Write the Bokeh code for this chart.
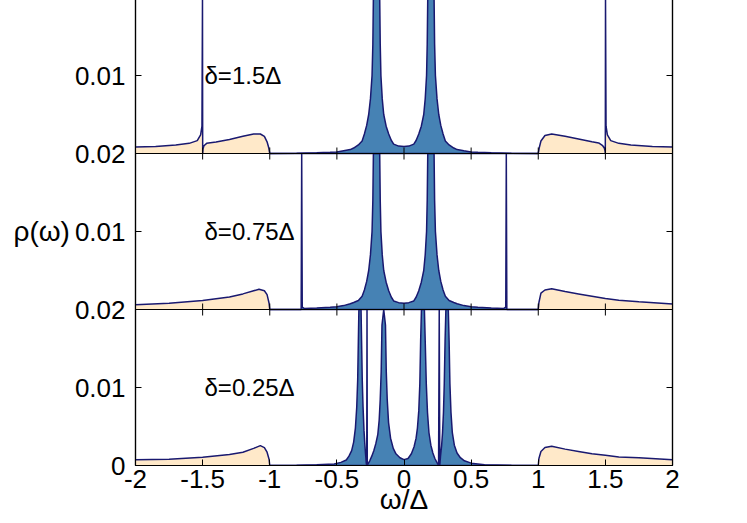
import numpy as np
from bokeh.plotting import figure
from bokeh.models import Range1d, LinearAxis, FixedTicker, CustomJSTickFormatter, Span
from bokeh.core.properties import value
from bokeh.embed import file_html
from bokeh.resources import INLINE

# ---------------- data ----------------
x_ticks = [-2, -1.5, -1, -0.5, 0, 0.5, 1, 1.5, 2]
x_tick_labels = ["-2", "-1.5", "-1", "-0.5", "0", "0.5", "1", "1.5", "2"]
y_ticks = [0, 0.01, 0.02, 0.03, 0.04, 0.05, 0.06]
y_tick_labels = ["0", "0.01", "0.02", "0.01", "0.02", "0.01", ""]

panel_labels = ["δ=0.25Δ", "δ=0.75Δ", "δ=1.5Δ"]   # bottom, middle, top
panel_offsets = [0.0, 0.02, 0.04]
panel_height = 0.02

# top panel  (delta = 1.5 Delta)
top_band_x = [-2.0, -1.85, -1.7, -1.6, -1.54, -1.515, -1.505, -1.501, -1.4995, -1.497, -1.49, -1.47,
              -1.4, -1.3, -1.2, -1.12, -1.07, -1.04, -1.02, -1.007, -1.0, 1.0, 1.007, 1.02, 1.05, 1.1,
              1.2, 1.3, 1.4, 1.45, 1.48, 1.492, 1.498, 1.4995, 1.501, 1.505, 1.515, 1.54, 1.6, 1.69,
              1.85, 2.0]
top_band_y = [0.00082, 0.0009, 0.0011, 0.0013, 0.00165, 0.0024, 0.0035, 0.03, 0.0, 0.0006, 0.001, 0.0013,
              0.00147, 0.0018, 0.0022, 0.0025, 0.0025, 0.0022, 0.0015, 0.0007, 0.0, 0.0, 0.0007, 0.0016, 0.0023, 0.0025,
              0.0022, 0.00186, 0.0015, 0.00136, 0.001, 0.0007, 0.0003, 0.0, 0.03, 0.0035, 0.0024, 0.00165, 0.0013, 0.0011,
              0.0009, 0.00082]
top_gap_x = [-1.0, -0.8, -0.65, -0.55, -0.5, -0.45, -0.4, -0.375, -0.34, -0.312, -0.295, -0.278, -0.263,
             -0.25, -0.238, -0.232, -0.228, -0.22, -0.205, -0.19, -0.181, -0.177, -0.172, -0.162, -0.151,
             -0.133, -0.114, -0.095, -0.077, -0.04, 0.0, 0.036, 0.073, 0.091, 0.11, 0.129, 0.147, 0.158,
             0.168, 0.173, 0.177, 0.186, 0.201, 0.216, 0.224, 0.228, 0.234, 0.246, 0.259, 0.274, 0.291,
             0.308, 0.336, 0.371, 0.396, 0.446, 0.5, 0.55, 0.65, 0.8, 1.0]
top_gap_y = [0.0, 0.00003, 0.0001, 0.00016, 0.0002, 0.00035, 0.0005, 0.0007, 0.0011, 0.0016, 0.0025, 0.0036, 0.005,
             0.007, 0.01, 0.014, 0.02, 0.03, 0.06, 0.03, 0.02, 0.014, 0.01, 0.007, 0.005,
             0.0035, 0.0025, 0.0017, 0.0012, 0.00095, 0.0009, 0.00095, 0.0012, 0.0017, 0.0025, 0.0035, 0.005, 0.007,
             0.01, 0.014, 0.02, 0.03, 0.06, 0.03, 0.02, 0.014, 0.01, 0.007, 0.005, 0.0036, 0.0025,
             0.0016, 0.0011, 0.0007, 0.0005, 0.00035, 0.0002, 0.00016, 0.0001, 0.00003, 0.0]

# middle panel (delta = 0.75 Delta)
mid_band_x = [-2.0, -1.75, -1.5, -1.3, -1.2, -1.12, -1.08, -1.04, -1.02, -1.005, -1.0,
              1.0, 1.005, 1.02, 1.05, 1.1, 1.2, 1.3, 1.4, 1.5, 1.6, 1.75, 2.0]
mid_band_y = [0.0006, 0.0008, 0.00115, 0.0016, 0.002, 0.0024, 0.0026, 0.0024, 0.0019, 0.0008, 0.0,
              0.0, 0.0009, 0.0021, 0.0025, 0.00265, 0.0023, 0.002, 0.0017, 0.0014, 0.0012, 0.001, 0.0007]
mid_gap_x = [-1.0, -0.766, -0.762, -0.758, -0.74, -0.65, -0.55, -0.5, -0.45, -0.4, -0.375, -0.34,
             -0.312, -0.295, -0.278, -0.263, -0.25, -0.238, -0.232, -0.228, -0.22, -0.205, -0.19, -0.181,
             -0.177, -0.172, -0.162, -0.151, -0.133, -0.114, -0.095, -0.077, -0.04, 0.0, 0.036, 0.073,
             0.091, 0.11, 0.129, 0.147, 0.158, 0.168, 0.173, 0.177, 0.186, 0.201, 0.216, 0.224, 0.228,
             0.234, 0.246, 0.259, 0.274, 0.291, 0.308, 0.336, 0.371, 0.396, 0.446, 0.5, 0.55, 0.65,
             0.74, 0.758, 0.762, 0.766, 1.0]
mid_gap_y = [0.0, 0.0, 0.03, 0.0003, 0.00012, 0.0002, 0.0003, 0.00036, 0.0005, 0.00073, 0.0009, 0.00115,
             0.0017, 0.0025, 0.0036, 0.005, 0.007, 0.01, 0.014, 0.02, 0.03, 0.06, 0.03, 0.02,
             0.014, 0.01, 0.007, 0.005, 0.0035, 0.0024, 0.0016, 0.0011, 0.00088, 0.0008, 0.00088, 0.0011,
             0.0016, 0.0024, 0.0035, 0.005, 0.007, 0.01, 0.014, 0.02, 0.03, 0.06, 0.03, 0.02, 0.014,
             0.01, 0.007, 0.005, 0.0036, 0.0025, 0.0017, 0.00115, 0.0009, 0.00073, 0.0005, 0.00036, 0.0003, 0.0002,
             0.00012, 0.0003, 0.03, 0.0, 0.0]

# bottom panel (delta = 0.25 Delta)
bot_band_x = [-2.0, -1.75, -1.5, -1.3, -1.2, -1.12, -1.07, -1.04, -1.02, -1.005, -1.0,
              1.0, 1.005, 1.02, 1.05, 1.1, 1.2, 1.3, 1.4, 1.5, 1.6, 1.75, 2.0]
bot_band_y = [0.00073, 0.0008, 0.00106, 0.0014, 0.0017, 0.0022, 0.00255, 0.0023, 0.0017, 0.0008, 0.0,
              0.0, 0.0009, 0.0018, 0.0023, 0.00246, 0.0021, 0.0018, 0.0015, 0.0013, 0.0011, 0.00098, 0.00073]
bot_gap_x = [-1.0, -0.8, -0.65, -0.52, -0.47, -0.43, -0.41, -0.39, -0.375, -0.362, -0.352, -0.345,
             -0.34, -0.336, -0.328, -0.32, -0.316, -0.311, -0.305, -0.298, -0.292, -0.286, -0.281,
             -0.2775, -0.2755, -0.2735, -0.268, -0.255, -0.24, -0.225, -0.21, -0.195, -0.185, -0.177,
             -0.17, -0.164, -0.151, -0.138, -0.132, -0.125, -0.115, -0.1, -0.08, -0.06, -0.03, 0.0,
             0.03, 0.055, 0.075, 0.09, 0.1, 0.11, 0.118, 0.124, 0.13, 0.141, 0.152, 0.158, 0.166,
             0.175, 0.186, 0.2, 0.215, 0.23, 0.245, 0.2575, 0.2625, 0.2665, 0.272, 0.28, 0.287, 0.294,
             0.3, 0.306, 0.312, 0.321, 0.33, 0.336, 0.342, 0.35, 0.36, 0.375, 0.395, 0.42, 0.45, 0.5,
             0.6, 0.8, 1.0]
bot_gap_y = [0.0, 0.00003, 0.0001, 0.0002, 0.0004, 0.0007, 0.0012, 0.0019, 0.003, 0.0048, 0.0075, 0.011,
             0.016, 0.022, 0.05, 0.022, 0.016, 0.011, 0.0075, 0.0045, 0.0028, 0.0014, 0.0003,
             0.0, 0.03, 0.0, 0.0002, 0.0006, 0.0012, 0.0019, 0.0028, 0.004, 0.0058, 0.0085,
             0.012, 0.018, 0.05, 0.018, 0.012, 0.0085, 0.0055, 0.0035, 0.0022, 0.0015, 0.001, 0.00075,
             0.0009, 0.0015, 0.0024, 0.0035, 0.0048, 0.007, 0.0105, 0.016, 0.023, 0.05, 0.023, 0.016, 0.0105,
             0.0068, 0.0042, 0.0026, 0.0016, 0.0009, 0.0004, 0.0, 0.03, 0.0, 0.0012, 0.0025, 0.0042, 0.0068,
             0.0105, 0.016, 0.024, 0.05, 0.024, 0.016, 0.0105, 0.0068, 0.0042, 0.0026, 0.0016, 0.001, 0.0006, 0.0003,
             0.0001, 0.00003, 0.0]

# ---------------- styling ----------------
FONT = "Liberation Sans"
BAND_FILL = "#FFE9C9"
GAP_FILL = "#4682B4"
CURVE = "#191970"

p = figure(frame_width=537, frame_height=468,
           x_range=Range1d(-2, 2), y_range=Range1d(0, 0.06),
           output_backend="svg", toolbar_location=None,
           min_border_left=135, min_border_right=16, min_border_top=0, min_border_bottom=0,
           background_fill_color="white", border_fill_color="white")
p.grid.visible = False
p.outline_line_color = "black"
p.outline_line_width = 1.2
p.styles = {"margin-top": "-3px"}

panels = [(bot_band_x, bot_band_y, bot_gap_x, bot_gap_y),
          (mid_band_x, mid_band_y, mid_gap_x, mid_gap_y),
          (top_band_x, top_band_y, top_gap_x, top_gap_y)]

for (bx, by, gx, gy), off in zip(panels, panel_offsets):
    bxa = np.asarray(bx, dtype=float)
    bya = off + np.minimum(np.asarray(by, dtype=float), panel_height)
    gxa = np.asarray(gx, dtype=float)
    gya = off + np.minimum(np.asarray(gy, dtype=float), panel_height)
    p.varea(x=bxa, y1=np.full_like(bxa, off), y2=bya, fill_color=BAND_FILL)
    p.varea(x=gxa, y1=np.full_like(gxa, off), y2=gya, fill_color=GAP_FILL)
    p.line(bxa, bya, line_color=CURVE, line_width=1.5)
    p.line(gxa, gya, line_color=CURVE, line_width=1.5)

# panel boundaries and their tick marks
inner_x = x_ticks[1:-1]
for b in panel_offsets[1:]:
    p.add_layout(Span(location=b, dimension="width", line_color="black", line_width=1.2))
    p.scatter(x=inner_x, y=[b] * len(inner_x), marker="dash", size=12, angle=np.pi / 2,
              line_color="black", line_width=1)

# panel labels
p.text(x=[-1.486] * 3, y=[off + 0.01 for off in panel_offsets], text=panel_labels,
       text_font=value(FONT), text_font_size="24px", text_baseline="middle",
       text_align="left", text_color="black")

fmt_code = """
const i = tvals.findIndex((t) => Math.abs(t - tick) < 1e-9);
return i < 0 ? '' : tlabels[i];
"""

xa = p.xaxis[0]
xa.ticker = FixedTicker(ticks=x_ticks)
xa.formatter = CustomJSTickFormatter(args=dict(tvals=x_ticks, tlabels=x_tick_labels), code=fmt_code)
xa.major_tick_in = 6
xa.major_tick_out = 0
xa.minor_tick_in = 0
xa.minor_tick_out = 0
xa.axis_line_width = 1.2
xa.major_label_text_font = FONT
xa.major_label_text_font_size = "26px"
xa.major_label_text_color = "black"
xa.major_label_standoff = 4
xa.axis_label = "ω/Δ"
xa.axis_label_text_font = FONT
xa.axis_label_text_font_size = "28px"
xa.axis_label_text_font_style = "normal"
xa.axis_label_text_color = "black"
xa.axis_label_standoff = -7

ya = p.yaxis[0]
ya.ticker = FixedTicker(ticks=y_ticks)
ya.formatter = CustomJSTickFormatter(args=dict(tvals=y_ticks, tlabels=y_tick_labels), code=fmt_code)
ya.major_tick_in = 6
ya.major_tick_out = 0
ya.minor_tick_in = 0
ya.minor_tick_out = 0
ya.axis_line_width = 1.2
ya.major_label_text_font = FONT
ya.major_label_text_font_size = "26px"
ya.major_label_text_color = "black"
ya.major_label_standoff = 10
ya.axis_label = "ρ(ω)"
ya.axis_label_orientation = "horizontal"
ya.axis_label_text_font = FONT
ya.axis_label_text_font_size = "28px"
ya.axis_label_text_font_style = "normal"
ya.axis_label_text_color = "black"
ya.axis_label_standoff = 2

ra = LinearAxis(ticker=FixedTicker(ticks=y_ticks),
                formatter=CustomJSTickFormatter(code="return ''"),
                major_tick_in=6, major_tick_out=0, minor_tick_in=0, minor_tick_out=0,
                major_label_standoff=0, axis_line_width=1.2)
p.add_layout(ra, "right")

with open("out.html", "w", encoding="utf-8") as f:
    f.write(file_html(p, INLINE))
